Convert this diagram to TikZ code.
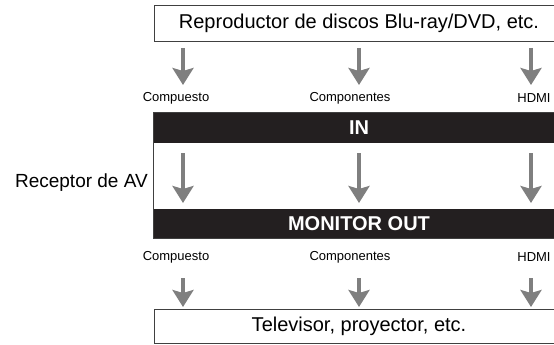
\documentclass[tikz,border=0pt]{standalone}
\usepackage{fontspec}
\setmainfont{Liberation Sans}
\usetikzlibrary{arrows.meta}
\definecolor{feedgray}{HTML}{7F7F7F}
\definecolor{barblack}{HTML}{231F20}
\tikzset{
  devbox/.style={draw=black!75,line width=0.8pt,minimum width=410pt,inner sep=0pt,font=\fontsize{20}{24}\selectfont},
  bar/.style={fill=barblack,text=white,minimum width=410pt,inner sep=0pt,font=\bfseries\fontsize{20}{24}\selectfont},
  feed/.style={feedgray,line width=4.5pt,-{Stealth[width=21pt,length=17pt,inset=3pt]}},
  conn/.style={font=\fontsize{13}{15}\selectfont,inner sep=0pt}
}
\begin{document}
\begin{tikzpicture}[x=1pt,y=-1pt]
  \useasboundingbox (0,0) rectangle (554,345);
  % devices
  \node[devbox,minimum height=36pt] (player) at (359,23) {Reproductor de discos Blu-ray/DVD, etc.};
  \node[devbox,minimum height=34pt] (tv) at (359,326) {Televisor, proyector, etc.};
  % receiver
  \node[bar,minimum height=30pt] (inbar) at (359,128) {IN};
  \node[bar,minimum height=29pt] (outbar) at (359,223.5) {MONITOR OUT};
  \draw[black!75,line width=0.8pt] (inbar.north west) rectangle (outbar.south east);
  \node[anchor=east,inner sep=0pt,font=\fontsize{19}{22}\selectfont] (recv) at (148,183) {Receptor de AV};
  % connections
  \foreach \x/\c/\lx/\txt in {183/cv/176/Compuesto,359/cp/350/Componentes,531/hd/534/HDMI} {
    \node[conn] (\c in) at (\lx,98) {\txt};
    \node[conn] (\c out) at (\lx,257) {\txt};
    \coordinate (\c1) at (\x,48);  \coordinate (\c2) at (\x,85);
    \coordinate (\c3) at (\x,153); \coordinate (\c4) at (\x,203);
    \coordinate (\c5) at (\x,278); \coordinate (\c6) at (\x,307);
    \draw[feed] (\c1) -- (\c2);
    \draw[feed] (\c3) -- (\c4);
    \draw[feed] (\c5) -- (\c6);
  }
\end{tikzpicture}
\end{document}
